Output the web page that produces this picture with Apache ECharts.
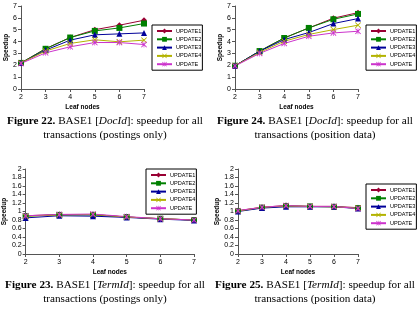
<!DOCTYPE html>
<html>
<head>
<meta charset="utf-8">
<script src="https://cdn.jsdelivr.net/npm/echarts@6/dist/echarts.min.js"></script>
<style>
  html, body { margin: 0; padding: 0; background: #fff; }
  #chart { width: 418px; height: 326px; }
</style>
</head>
<body>
<div id="chart"></div>
<script>
// leaf node counts on the x axis
const leafNodes = ["2", "3", "4", "5", "6", "7"];
const seriesNames = ["UPDATE1", "UPDATE2", "UPDATE3", "UPDATE4", "UPDATE"];

// Figure 22: DocId, postings only (rows follow seriesNames)
const fig22 = [
  [2.2, 3.4, 4.34, 5.0, 5.38, 5.8],
  [2.2, 3.39, 4.34, 4.9, 5.15, 5.52],
  [2.2, 3.28, 4.12, 4.57, 4.65, 4.73],
  [2.2, 3.2, 3.84, 4.15, 3.98, 4.12],
  [2.15, 3.05, 3.56, 3.92, 3.92, 3.75]
];
// Figure 24: DocId, position data
const fig24 = [
  [1.96, 3.2, 4.3, 5.15, 5.97, 6.44],
  [1.96, 3.2, 4.3, 5.15, 5.88, 6.33],
  [1.96, 3.18, 4.17, 4.76, 5.52, 5.94],
  [1.96, 3.08, 4.03, 4.6, 5.01, 5.38],
  [1.94, 3.0, 3.84, 4.45, 4.73, 4.87]
];
// Figure 23: TermId, postings only
const fig23 = [
  [0.90, 0.93, 0.93, 0.87, 0.83, 0.80],
  [0.89, 0.92, 0.92, 0.87, 0.83, 0.80],
  [0.85, 0.90, 0.89, 0.86, 0.82, 0.79],
  [0.89, 0.92, 0.93, 0.87, 0.83, 0.80],
  [0.90, 0.93, 0.94, 0.88, 0.83, 0.80]
];
// Figure 25: TermId, position data
const fig25 = [
  [1.02, 1.10, 1.14, 1.12, 1.12, 1.09],
  [1.01, 1.09, 1.13, 1.12, 1.11, 1.08],
  [1.00, 1.08, 1.11, 1.11, 1.11, 1.07],
  [1.01, 1.10, 1.13, 1.12, 1.11, 1.08],
  [1.02, 1.10, 1.14, 1.12, 1.12, 1.07]
];

const captions = [
  ["22", "DocId", "postings only"],
  ["24", "DocId", "position data"],
  ["23", "TermId", "postings only"],
  ["25", "TermId", "position data"]
];

const colors = ["#990033", "#008000", "#000099", "#b3b300", "#cc33cc"];
const xMark = "path://M0,1L1,0L5,4L9,0L10,1L6,5L10,9L9,10L5,6L1,10L0,9L4,5Z";
const starMark = "path://M0,1L1,0L4.5,3.5L4.5,0L5.5,0L5.5,3.5L9,0L10,1L6,5L10,9L9,10L5.5,6.5L5.5,10L4.5,10L4.5,6.5L1,10L0,9L4,5Z";
const symbols = ["diamond", "rect", "triangle", xMark, starMark];

const panels = [
  { data: fig22, grid: { left: 21, top: 6, width: 123, height: 83 }, yMax: 7, yStep: 1, nameGap: 8, legend: { left: 152, top: 25 } },
  { data: fig24, grid: { left: 235, top: 6, width: 123, height: 83 }, yMax: 7, yStep: 1, nameGap: 10.5, legend: { left: 366, top: 25 } },
  { data: fig23, grid: { left: 24, top: 169, width: 170, height: 85 }, yMax: 2, yStep: 0.2, nameGap: 13, legend: { left: 146, top: 169 } },
  { data: fig25, grid: { left: 238, top: 169, width: 120, height: 85 }, yMax: 2, yStep: 0.2, nameGap: 13, legend: { left: 366, top: 184 } }
];

const axisFont = { fontFamily: "Arial, 'Liberation Sans'", fontSize: 7, color: "#000" };
const serif = "'Liberation Serif', 'Times New Roman', serif";
const capSize = 11.2;

const chart = echarts.init(document.getElementById("chart"), null, { renderer: "canvas" });

const grid = [], xAxis = [], yAxis = [], series = [], legend = [];
panels.forEach((p, i) => {
  grid.push(Object.assign({ containLabel: false }, p.grid));
  xAxis.push({
    gridIndex: i,
    type: "category",
    data: leafNodes,
    boundaryGap: false,
    name: "Leaf nodes",
    nameLocation: "middle",
    nameGap: 15,
    nameTextStyle: Object.assign({}, axisFont, { fontSize: 6.5, fontWeight: "bold" }),
    axisLine: { lineStyle: { color: "#555", width: 1 } },
    axisTick: { show: true, length: 3, alignWithLabel: true, lineStyle: { color: "#555" } },
    axisLabel: Object.assign({ margin: 5 }, axisFont),
    splitLine: { show: false }
  });
  yAxis.push({
    gridIndex: i,
    type: "value",
    min: 0,
    max: p.yMax,
    interval: p.yStep,
    name: "Speedup",
    nameLocation: "middle",
    nameGap: p.nameGap,
    nameTextStyle: Object.assign({}, axisFont, { fontSize: 6.5, fontWeight: "bold" }),
    axisLine: { show: true, lineStyle: { color: "#555", width: 1 } },
    axisTick: { show: true, length: 3, lineStyle: { color: "#555" } },
    axisLabel: Object.assign({ margin: 4 }, axisFont),
    splitLine: { show: false }
  });
  p.data.forEach((vals, k) => {
    series.push({
      name: seriesNames[k],
      type: "line",
      xAxisIndex: i,
      yAxisIndex: i,
      data: vals,
      symbol: symbols[k],
      symbolSize: 6,
      showAllSymbol: true,
      lineStyle: { color: colors[k], width: 1 },
      itemStyle: { color: colors[k] },
      emphasis: { disabled: true },
      animation: false
    });
  });
  legend.push({
    left: p.legend.left,
    top: p.legend.top,
    orient: "vertical",
    data: seriesNames,
    itemWidth: 15,
    itemHeight: 6,
    itemGap: 2.3,
    padding: [3, 1, 3, 4],
    borderColor: "#000",
    borderWidth: 1,
    backgroundColor: "#fff",
    selectedMode: false,
    textStyle: { fontFamily: "Arial, 'Liberation Sans'", fontSize: 5.6, color: "#000", padding: [0, 0, 0, -1] }
  });
});

const captionPos = [[105, 116], [315, 116], [105, 280], [315, 280]];
const graphic = [];
captions.forEach((c, i) => {
  const [x, y] = captionPos[i];
  graphic.push({
    type: "text",
    x: x, y: y,
    style: {
      text: "{b|Figure " + c[0] + ".} BASE1 [{i|" + c[1] + "}]: speedup for all",
      rich: {
        b: { fontFamily: serif, fontSize: capSize, fontWeight: "bold", fill: "#000" },
        i: { fontFamily: serif, fontSize: capSize, fontStyle: "italic", fill: "#000" }
      },
      font: capSize + "px " + serif,
      fill: "#000",
      textAlign: "center"
    }
  });
  graphic.push({
    type: "text",
    x: x, y: y + 14,
    style: {
      text: "transactions (" + c[2] + ")",
      font: capSize + "px " + serif,
      fill: "#000",
      textAlign: "center"
    }
  });
});

chart.setOption({
  animation: false,
  grid, xAxis, yAxis, series, legend, graphic
});
</script>
</body>
</html>
